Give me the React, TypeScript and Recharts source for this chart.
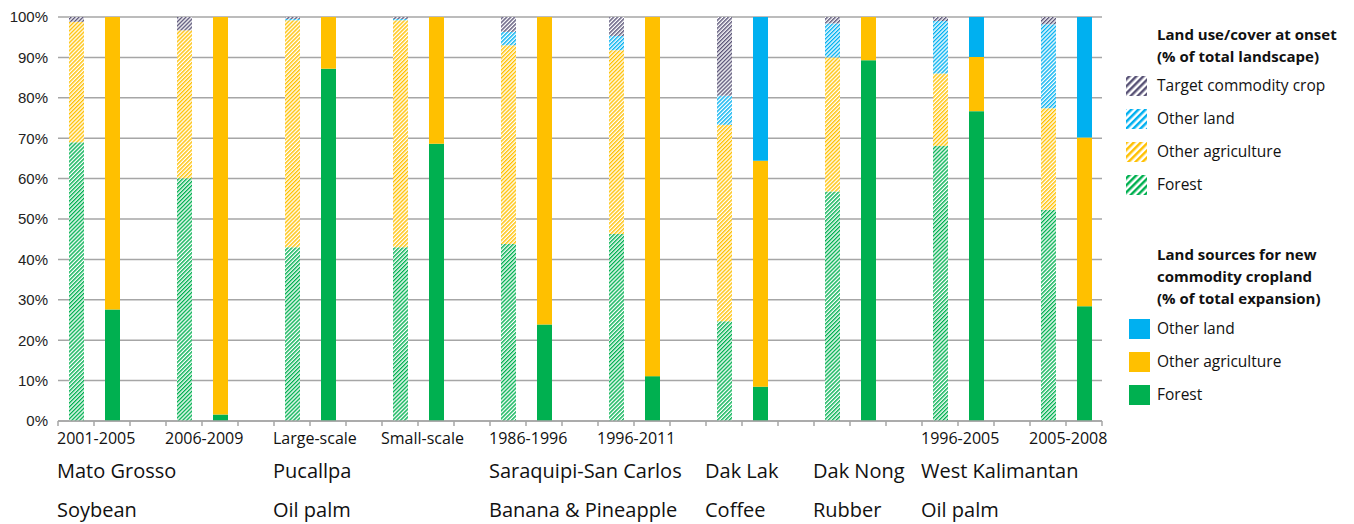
import React from 'react';
import { BarChart, Bar, XAxis, YAxis, CartesianGrid } from 'recharts';

// ---------- data ----------
const periods = ['2001-2005', '2006-2009', 'Large-scale', 'Small-scale', '1986-1996', '1996-2011', '', '', '1996-2005', '2005-2008'];
const sites = ['Mato Grosso', '', 'Pucallpa', '', 'Saraquipi-San Carlos', '', 'Dak Lak', 'Dak Nong', 'West Kalimantan', ''];
const crops = ['Soybean', '', 'Oil palm', '', 'Banana & Pineapple', '', 'Coffee', 'Rubber', 'Oil palm', ''];

// Land use/cover at onset (% of total landscape)
const onsetForest = [69.0, 60.1, 43.0, 43.0, 43.8, 46.3, 24.7, 56.8, 68.1, 52.3];
const onsetOtherAgri = [29.8, 36.6, 56.2, 56.2, 49.2, 45.5, 48.6, 33.2, 17.9, 25.1];
const onsetOtherLand = [0, 0, 0.3, 0.3, 3.3, 3.5, 7.2, 8.4, 13.0, 20.8];
const onsetTarget = [1.2, 3.3, 0.5, 0.5, 3.7, 4.7, 19.5, 1.6, 1.0, 1.8];

// Land sources for new commodity cropland (% of total expansion)
const sourceForest = [27.6, 1.6, 87.2, 68.6, 23.9, 11.1, 8.5, 89.3, 76.7, 28.4];
const sourceOtherAgri = [72.4, 98.4, 12.8, 31.4, 76.1, 88.9, 55.9, 10.7, 13.4, 41.8];
const sourceOtherLand = [0, 0, 0, 0, 0, 0, 35.6, 0, 9.9, 29.8];

const yTicks = [0, 10, 20, 30, 40, 50, 60, 70, 80, 90, 100];

// ---------- styling ----------
const GREEN = '#00B050';
const YELLOW = '#FFC000';
const BLUE = '#00B0F0';
const PURPLE = '#5A5477';
const GRID = '#A6A6A6';
const FONT = '"Open Sans", "Noto Sans", sans-serif';

const W = 1346;
const H = 516;
const Y_W = 50;
const M_TOP = 9;
const M_RIGHT = 252;
const PLOT_W = W - Y_W - M_RIGHT;

type Row = {
  key: string;
  group: number;
  kind: 'onset' | 'source' | 'blank';
  oF?: number; oA?: number; oL?: number; oT?: number;
  sF?: number; sA?: number; sL?: number;
};

const rows: Row[] = [];
periods.forEach((_, i) => {
  rows.push({ key: `o${i}`, group: i, kind: 'onset', oF: onsetForest[i], oA: onsetOtherAgri[i], oL: onsetOtherLand[i], oT: onsetTarget[i], sF: 0, sA: 0, sL: 0 });
  rows.push({ key: `s${i}`, group: i, kind: 'source', oF: 0, oA: 0, oL: 0, oT: 0, sF: sourceForest[i], sA: sourceOtherAgri[i], sL: sourceOtherLand[i] });
  if (i < periods.length - 1) rows.push({ key: `b${i}`, group: i, kind: 'blank', oF: 0, oA: 0, oL: 0, oT: 0, sF: 0, sA: 0, sL: 0 });
});

const SLOT = PLOT_W / rows.length;

const Hatch = ({ id, color, size }: { id: string; color: string; size: number }) => (
  <pattern id={id} patternUnits="userSpaceOnUse" width={size} height={size} patternTransform="rotate(45)">
    <rect x={0} y={0} width={size} height={size} fill="#ffffff" />
    <rect x={0} y={0} width={size / 2} height={size} fill={color} />
  </pattern>
);

const XTick = (props: any) => {
  const { x, y, payload } = props;
  const index = props.index ?? payload?.index ?? 0;
  const row = rows[index];
  const left = x - SLOT / 2;
  const out: React.ReactNode[] = [];
  out.push(<line key="t0" x1={left} x2={left} y1={y} y2={y + 5} stroke={GRID} strokeWidth={1.5} />);
  if (index === rows.length - 1) {
    out.push(<line key="t1" x1={x + SLOT / 2} x2={x + SLOT / 2} y1={y} y2={y + 5} stroke={GRID} strokeWidth={1.5} />);
  }
  if (row && row.kind === 'onset') {
    const g = row.group;
    const tx = left - 1;
    if (periods[g]) out.push(<text key="p" x={tx} y={y + 23} fontSize={16} fill="#111" fontFamily={FONT}>{periods[g]}</text>);
    if (sites[g]) out.push(<text key="s" x={tx} y={y + 57} fontSize={20} fill="#111" fontFamily={FONT}>{sites[g]}</text>);
    if (crops[g]) out.push(<text key="c" x={tx} y={y + 96} fontSize={20} fill="#111" fontFamily={FONT}>{crops[g]}</text>);
  }
  return <g>{out}</g>;
};

const onsetLegend = [
  { label: 'Target commodity crop', color: PURPLE },
  { label: 'Other land', color: BLUE },
  { label: 'Other agriculture', color: YELLOW },
  { label: 'Forest', color: GREEN },
];
const sourceLegend = [
  { label: 'Other land', color: BLUE },
  { label: 'Other agriculture', color: YELLOW },
  { label: 'Forest', color: GREEN },
];

const LegendPanel = () => (
  <svg width={236} height={420} style={{ position: 'absolute', left: 1110, top: 0 }}>
    <defs>
      {onsetLegend.map((it, i) => (
        <Hatch key={i} id={`leg-h${i}`} color={it.color} size={5} />
      ))}
    </defs>
    <text x={39} y={32} fontSize={15} fontWeight={700} fill="#111" fontFamily={FONT}>Land use/cover at onset</text>
    <text x={39} y={54} fontSize={15} fontWeight={700} fill="#111" fontFamily={FONT}>(% of total landscape)</text>
    {onsetLegend.map((it, i) => (
      <g key={`o${i}`}>
        <rect x={8} y={68 + i * 33} width={21} height={20} fill={`url(#leg-h${i})`} />
        <text x={39} y={83 + i * 33} fontSize={15.5} fill="#111" fontFamily={FONT}>{it.label}</text>
      </g>
    ))}
    <text x={39} y={252} fontSize={15} fontWeight={700} fill="#111" fontFamily={FONT}>Land sources for new</text>
    <text x={39} y={274} fontSize={15} fontWeight={700} fill="#111" fontFamily={FONT}>commodity cropland</text>
    <text x={39} y={296} fontSize={15} fontWeight={700} fill="#111" fontFamily={FONT}>(% of total expansion)</text>
    {sourceLegend.map((it, i) => (
      <g key={`s${i}`}>
        <rect x={11} y={311 + i * 33} width={21} height={20} fill={it.color} />
        <text x={39} y={326 + i * 33} fontSize={15.5} fill="#111" fontFamily={FONT}>{it.label}</text>
      </g>
    ))}
  </svg>
);

export default function App() {
  return (
    <div style={{ position: 'relative', width: W, height: H, fontFamily: FONT, background: '#fff' }}>
      <BarChart
        width={W}
        height={H}
        data={rows}
        margin={{ top: M_TOP, right: M_RIGHT, left: 0, bottom: 0 }}
        barSize={15}
      >
        <defs>
          <Hatch id="h-forest" color={GREEN} size={2.8} />
          <Hatch id="h-agri" color={YELLOW} size={2.8} />
          <Hatch id="h-other" color={BLUE} size={2.8} />
          <Hatch id="h-target" color={PURPLE} size={2.8} />
        </defs>
        <CartesianGrid vertical={false} stroke={GRID} strokeWidth={1.5} />
        <XAxis
          dataKey="key"
          interval={0}
          tickLine={false}
          tickSize={0}
          tickMargin={0}
          height={H - M_TOP - 404}
          axisLine={{ stroke: GRID, strokeWidth: 1.5 }}
          tick={<XTick />}
        />
        <YAxis
          width={Y_W}
          domain={[0, 100]}
          ticks={yTicks}
          allowDataOverflow
          axisLine={false}
          tickLine={false}
          tickMargin={4}
          tickFormatter={(v: number) => `${v}%`}
          tick={{ fontSize: 15, fill: '#222', fontFamily: '"Liberation Sans", Arial, sans-serif' }}
        />
        <Bar dataKey="oF" stackId="a" fill="url(#h-forest)" isAnimationActive={false} />
        <Bar dataKey="oA" stackId="a" fill="url(#h-agri)" isAnimationActive={false} />
        <Bar dataKey="oL" stackId="a" fill="url(#h-other)" isAnimationActive={false} />
        <Bar dataKey="oT" stackId="a" fill="url(#h-target)" isAnimationActive={false} />
        <Bar dataKey="sF" stackId="a" fill={GREEN} isAnimationActive={false} />
        <Bar dataKey="sA" stackId="a" fill={YELLOW} isAnimationActive={false} />
        <Bar dataKey="sL" stackId="a" fill={BLUE} isAnimationActive={false} />
      </BarChart>
      <LegendPanel />
    </div>
  );
}
